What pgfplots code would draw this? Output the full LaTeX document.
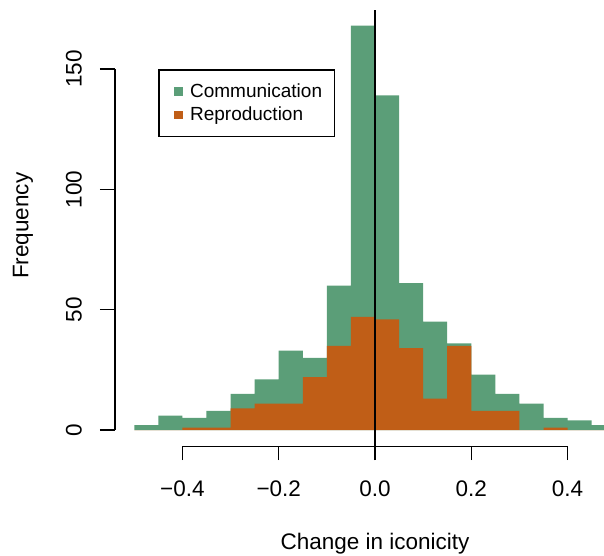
\documentclass[border=0pt]{standalone}
\usepackage{fontspec}
\setmainfont{Liberation Sans}
\usepackage{pgfplots}
\pgfplotsset{compat=1.18}
\definecolor{comm}{HTML}{5B9E78}
\definecolor{repro}{HTML}{C05E17}
\begin{document}
\begin{tikzpicture}[x=1bp,y=1bp,font=\fontsize{22.5bp}{27bp}\selectfont]
% data axis (plot region)
\begin{axis}[
  at={(115bp,109.8bp)}, anchor=south west,
  scale only axis, width=520bp, height=436.7bp,
  xmin=-0.54, xmax=0.54, ymin=-6.72, ymax=174.72,
  axis lines=none, clip=false,
  legend cell align=left,
  legend image code/.code={\fill (5.5bp,-4.25bp) rectangle (14bp,4.25bp); \path (0bp,0bp) (19.2bp,0bp);},
  legend style={at={(0.0833,0.863)}, anchor=north west, draw=black, line width=1.2bp,
    font=\fontsize{19bp}{22bp}\selectfont, inner xsep=10bp, inner ysep=12bp, row sep=4bp},
]
\addplot[const plot, fill=comm, draw=none] coordinates {
(-0.50,2) (-0.45,6) (-0.40,5) (-0.35,8) (-0.30,15) (-0.25,21) (-0.20,33) (-0.15,30)
(-0.10,60) (-0.05,168) (0.00,139) (0.05,61) (0.10,45) (0.15,36) (0.20,23) (0.25,15)
(0.30,11) (0.35,5) (0.40,4) (0.45,2) (0.50,2)} \closedcycle;
\addlegendentry{Communication}
\addplot[const plot, fill=repro, draw=none] coordinates {
(-0.50,0) (-0.45,0) (-0.40,1) (-0.35,1) (-0.30,9) (-0.25,11) (-0.20,11) (-0.15,22)
(-0.10,35) (-0.05,47) (0.00,46) (0.05,34) (0.10,13) (0.15,35) (0.20,8) (0.25,8)
(0.30,0) (0.35,1) (0.40,0) (0.45,0) (0.50,0)} \closedcycle;
\addlegendentry{Reproduction}
\addplot[black, line width=1.3bp, forget plot] coordinates {(0,-12.5) (0,174.5)};
\end{axis}
% x axis (R style)
\begin{axis}[
  at={(182.41bp,109.8bp)}, anchor=south west,
  scale only axis, width=385.19bp, height=20bp,
  xmin=-0.4, xmax=0.4, ymin=0, ymax=1,
  axis x line=bottom, axis y line=none,
  axis line style={-, line width=1.3bp, black},
  tick style={line width=1.3bp, black},
  tick align=outside, major tick length=14bp,
  xtick={-0.4,-0.2,0,0.2,0.4},
  xticklabels={−0.4,−0.2,0.0,0.2,0.4},
  xticklabel style={anchor=base, yshift=-36bp},
  xlabel={Change in iconicity},
  xlabel style={at={(axis description cs:0.5,0)}, anchor=base, yshift=-102.8bp},
]
\end{axis}
% y axis (R style)
\begin{axis}[
  at={(115bp,126bp)}, anchor=south west,
  scale only axis, width=20bp, height=361.05bp,
  xmin=0, xmax=1, ymin=0, ymax=150,
  axis y line=left, axis x line=none,
  axis line style={-, line width=1.3bp, black},
  tick style={line width=1.3bp, black},
  tick align=outside, major tick length=15bp,
  ytick={0,50,100,150},
  yticklabels={0,50,100,150},
  yticklabel style={rotate=90, anchor=base, yshift=18.3bp},
  ylabel={Frequency},
  ylabel style={at={(axis description cs:0,0.5)}, anchor=base, xshift=23.7bp, yshift=86.7bp},
]
\end{axis}
\pgfresetboundingbox
\useasboundingbox (0,0) rectangle (604bp,556bp);
\end{tikzpicture}
\end{document}
